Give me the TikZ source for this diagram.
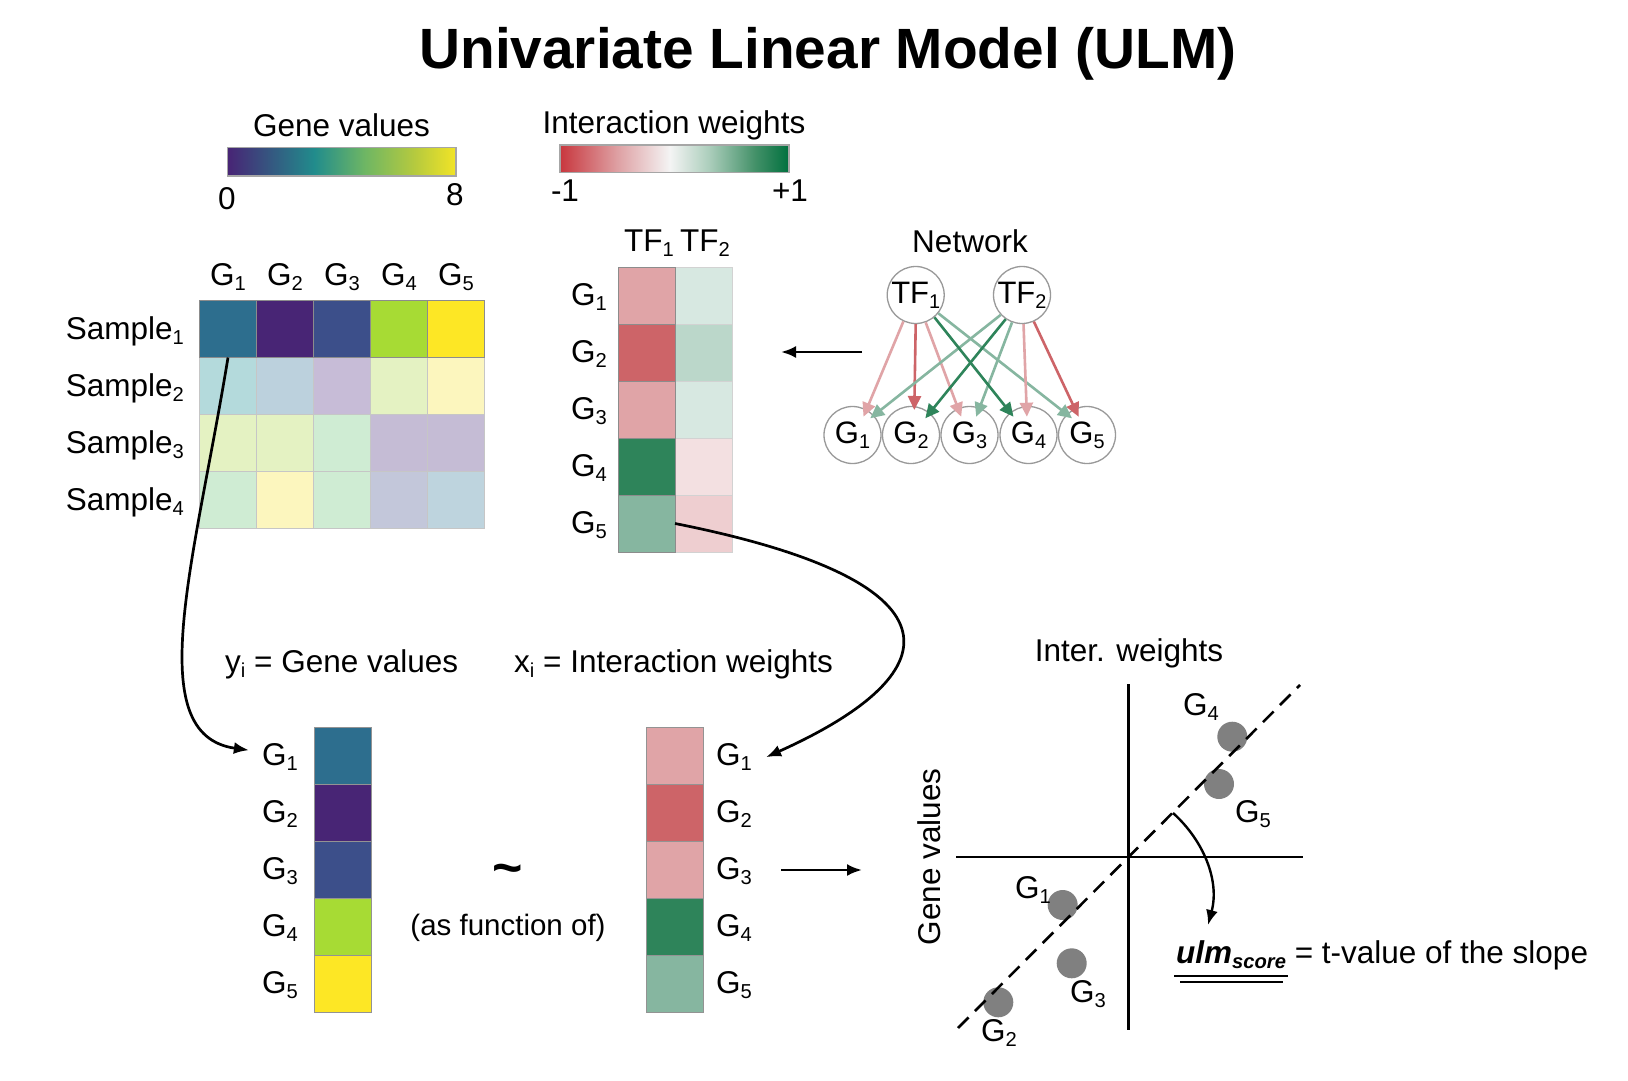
\documentclass[tikz,border=0pt]{standalone}
\usepackage{fontspec}
\setmainfont{Liberation Sans}
\usepackage{graphicx}
\usetikzlibrary{arrows.meta,calc}

\newcommand{\sbs}[1]{\raisebox{-0.17em}{\scalebox{0.64}{#1}}}

% heatmap colours
\definecolor{hA}{RGB}{45,110,142}
\definecolor{hB}{RGB}{72,37,117}
\definecolor{hC}{RGB}{60,79,138}
\definecolor{hD}{RGB}{167,219,52}
\definecolor{hE}{RGB}{253,231,37}
\definecolor{lteal}{RGB}{180,218,220}
\definecolor{lblue}{RGB}{188,209,221}
\definecolor{llav}{RGB}{199,188,215}
\definecolor{llime}{RGB}{228,242,194}
\definecolor{lyel}{RGB}{252,246,190}
\definecolor{lmint}{RGB}{207,236,211}
\definecolor{lav}{RGB}{197,188,213}
\definecolor{lgb}{RGB}{195,199,218}
\definecolor{lbluB}{RGB}{190,212,222}
% weight colours
\definecolor{wLR}{RGB}{224,164,167}
\definecolor{wR}{RGB}{205,100,104}
\definecolor{wDG}{RGB}{46,132,90}
\definecolor{wLG}{RGB}{134,182,160}
\definecolor{wVLG}{RGB}{215,232,225}
\definecolor{wMLG}{RGB}{187,215,202}
\definecolor{wVLR}{RGB}{243,224,225}
\definecolor{wPLR}{RGB}{238,206,208}
% colour bars
\definecolor{vA}{RGB}{72,36,117}
\definecolor{vB}{RGB}{33,140,140}
\definecolor{vC}{RGB}{110,182,100}
\definecolor{vD}{RGB}{182,202,62}
\definecolor{vE}{RGB}{242,228,38}
\pgfdeclarehorizontalshading{viridisbar}{100bp}{color(0bp)=(vA); color(25bp)=(vA); color(44bp)=(vB); color(55bp)=(vC); color(66bp)=(vD); color(75bp)=(vE); color(100bp)=(vE)}
\definecolor{iA}{RGB}{200,55,62}
\definecolor{iB}{RGB}{222,160,163}
\definecolor{iC}{RGB}{244,244,244}
\definecolor{iD}{RGB}{172,206,188}
\definecolor{iE}{RGB}{68,145,105}
\definecolor{iF}{RGB}{0,112,62}
\pgfdeclarehorizontalshading{interbar}{100bp}{color(0bp)=(iA); color(25bp)=(iA); color(37.5bp)=(iB); color(49bp)=(iC); color(57.5bp)=(iD); color(67.5bp)=(iE); color(75bp)=(iF); color(100bp)=(iF)}

\tikzset{
  lbl/.style={font=\fontsize{31.5}{38}\selectfont, inner sep=0pt},
  cell/.style={minimum width=57pt, minimum height=57pt, inner sep=0pt, outer sep=0pt, draw=gray!45, line width=1pt},
  dcell/.style={cell, draw=gray!90},
  gnode/.style={circle, draw=gray!80, fill=white, line width=1.3pt, minimum size=57pt, inner sep=0pt, font=\fontsize{31}{36}\selectfont},
  netarrow/.style={line width=2.6pt, -{Triangle[length=14pt,width=13pt]}},
  blk/.style={line width=2.7pt, -{Latex[length=15pt,width=12pt]}},
  dot/.style={circle, fill=gray, minimum size=30pt, inner sep=0pt},
  axisline/.style={line width=2.8pt},
}

\begin{document}
\begin{tikzpicture}[x=1pt, y=-1pt]
\fill[white] (0,0) rectangle (1628,1081);
\path[use as bounding box] (0,0) rectangle (1628,1081);

% title
\node[anchor=base, inner sep=0pt, font=\bfseries\fontsize{56.8}{60}\selectfont] (title) at (828,69) {Univariate Linear Model (ULM)};

% colour bars
\node[lbl, anchor=base] (gvt) at (341.5,136) {Gene values};
\shade[shading=viridisbar, draw=gray!70, line width=1.2pt] (227.5,147.5) rectangle (456,176);
\node[lbl, anchor=base] (g0) at (227,209) {0};
\node[lbl, anchor=base] (g8) at (455,205) {8};

\node[lbl, anchor=base] (iwt) at (674,133.5) {Interaction weights};
\shade[shading=interbar, draw=gray!70, line width=1.2pt] (560,145) rectangle (789,172.5);
\node[lbl, anchor=base] (im1) at (565,201) {-1};
\node[lbl, anchor=base] (ip1) at (790,201) {+1};

% heatmap
\foreach \c [count=\j] in {lteal,lblue,llav,llime,lyel}
  \node[cell, fill=\c] (h2\j) at ({171+57*\j},386) {};
\foreach \c [count=\j] in {llime,llime,lmint,lav,lav}
  \node[cell, fill=\c] (h3\j) at ({171+57*\j},443) {};
\foreach \c [count=\j] in {lmint,lyel,lmint,lgb,lbluB}
  \node[cell, fill=\c] (h4\j) at ({171+57*\j},500) {};
\foreach \c [count=\j] in {hA,hB,hC,hD,hE}
  \node[dcell, fill=\c] (h1\j) at ({171+57*\j},329) {};
\foreach \j in {1,...,5}
  \node[lbl, anchor=base] (hc\j) at ({171+57*\j},285) {G\sbs{\j}};
\foreach \j/\yy in {1/339,2/396,3/453,4/510}
  \node[lbl, anchor=base east] (sm\j) at (184,\yy) {Sample\sbs{\j}};

% TF matrix
\foreach \c [count=\j] in {wVLG,wMLG,wVLG,wVLR,wPLR}
  \node[cell, draw=gray!35, fill=\c] (u\j) at (703.5,{238.5+57*\j}) {};
\foreach \c [count=\j] in {wLR,wR,wLR,wDG,wLG}
  \node[dcell, fill=\c] (t\j) at (646.5,{238.5+57*\j}) {};
\node[lbl, anchor=base] (tfl1) at (649,251) {TF\sbs{1}};
\node[lbl, anchor=base] (tfl2) at (705,251) {TF\sbs{2}};
\foreach \j in {1,...,5}
  \node[lbl, anchor=base east] (tg\j) at (607,{248.5+57*\j}) {G\sbs{\j}};

% network
\node[lbl, anchor=base] (nettitle) at (970,252) {Network};
\node[gnode] (tf1) at (915.7,295) {TF\sbs{1}};
\node[gnode] (tf2) at (1022,295) {TF\sbs{2}};
\node[gnode] (n1) at (852.5,435) {G\sbs{1}};
\node[gnode] (n2) at (911,435) {G\sbs{2}};
\node[gnode] (n3) at (969.5,435) {G\sbs{3}};
\node[gnode] (n4) at (1028.5,435) {G\sbs{4}};
\node[gnode] (n5) at (1087,435) {G\sbs{5}};

\draw[netarrow, wLR] (tf1.-115) -- ($(n1.center)+(11,-18.3)$);
\draw[netarrow, wR]  (tf1.-90)  -- ($(n2.center)+(3.3,-25)$);
\draw[netarrow, wLR] (tf1.-70)  -- ($(n3.center)+(-8.3,-18.3)$);
\draw[netarrow, wLG] (tf1.-39)  -- ($(n5.center)+(-15,-16.7)$);
\draw[netarrow, wLG] (tf2.-137) -- ($(n1.center)+(17.7,-16.7)$);
\draw[netarrow, wLG] (tf2.-110) -- ($(n3.center)+(6.7,-18.3)$);
\draw[netarrow, wLR] (tf2.-87)  -- ($(n4.center)+(-1.6,-18.3)$);
\draw[netarrow, wR]  (tf2.-66)  -- ($(n5.center)+(-8.4,-18.3)$);
\draw[netarrow, wDG] (tf1.-50)  -- ($(n4.center)+(-15,-18.3)$);
\draw[netarrow, wDG] (tf2.-124) -- ($(n2.center)+(14.3,-16.7)$);

\coordinate (na1) at (862,352);
\coordinate (na2) at (781,352);
\draw[blk] (na1) -- (na2);

% bottom formulas
\node[lbl, anchor=base west] (ylab) at (225,672) {y\sbs{i} = Gene values};
\node[lbl, anchor=base west] (xlab) at (514,672) {x\sbs{i} = Interaction weights};

\foreach \c [count=\j] in {hA,hB,hC,hD,hE}
  \node[dcell, draw=gray!85, fill=\c] (yc\j) at (342.5,{698.5+57*\j}) {};
\foreach \c [count=\j] in {wLR,wR,wLR,wDG,wLG}
  \node[dcell, draw=gray!85, fill=\c] (xc\j) at (674.5,{698.5+57*\j}) {};
\foreach \j in {1,...,5}{
  \node[lbl, anchor=base east] (yg\j) at (298,{708.5+57*\j}) {G\sbs{\j}};
  \node[lbl, anchor=base west] (xg\j) at (716,{708.5+57*\j}) {G\sbs{\j}};
}

\node[inner sep=0pt, font=\bfseries\fontsize{52}{54}\selectfont] (tilde) at (508,875) {\textasciitilde};
\node[lbl, anchor=base, font=\fontsize{29.5}{36}\selectfont] (asf) at (508,935) {(as function of)};

\coordinate (nb1) at (781,870);
\coordinate (nb2) at (862,870);
\draw[blk] (nb1) -- (nb2);

% connectors
\draw[blk] (h11.south) .. controls (195,560) and (140,735) .. ([shift={(-13pt,7pt)}]yg1.west);
\draw[blk] (t5.east) .. controls (960,580) and (960,670) .. ([shift={(14pt,0pt)}]xg1.east);

% plot
\coordinate (ytop) at (1128.7,684);
\coordinate (ybot) at (1128.7,1030);
\coordinate (xl) at (956,857);
\coordinate (xr) at (1303,857);
\draw[axisline] (ytop) -- (ybot);
\draw[axisline] (xl) -- (xr);
\node[lbl, anchor=base] (iwl) at (1129,661) {Inter. weights};
\node[lbl, rotate=90] (gvl) at (929,857) {Gene values};

\node[dot] (p4) at (1232.3,736.7) {};
\node[dot] (p5) at (1219,784) {};
\node[dot] (p1) at (1062.7,905) {};
\node[dot] (p3) at (1071.7,963.3) {};
\node[dot] (p2) at (998.3,1002.3) {};

\coordinate (dl1) at (958,1028);
\coordinate (dl2) at (1300,685);
\draw[line width=2.6pt, dash pattern=on 15pt off 9pt] (dl1) -- (dl2);

\node[lbl, anchor=base west] (pl4) at (1183,715) {G\sbs{4}};
\node[lbl, anchor=base west] (pl5) at (1235,822) {G\sbs{5}};
\node[lbl, anchor=base west] (pl1) at (1015,898) {G\sbs{1}};
\node[lbl, anchor=base west] (pl3) at (1070,1002) {G\sbs{3}};
\node[lbl, anchor=base west] (pl2) at (981,1041) {G\sbs{2}};

\coordinate (ang1) at (1173,813);
\coordinate (ang2) at (1208,925);
\draw[line width=2.4pt, -{Latex[length=15pt,width=12pt]}] (ang1) .. controls (1203,840) and (1220,880) .. (ang2);

\node[lbl, anchor=base west] (ulm) at (1176,963) {\textbf{\textit{ulm}}\sbs{\textbf{\textit{score}}} = t-value of the slope};
\draw[line width=2.2pt] (1174,976) -- (1288,976);
\draw[line width=2.2pt] (1180,982) -- (1283,982);
\end{tikzpicture}
\end{document}
